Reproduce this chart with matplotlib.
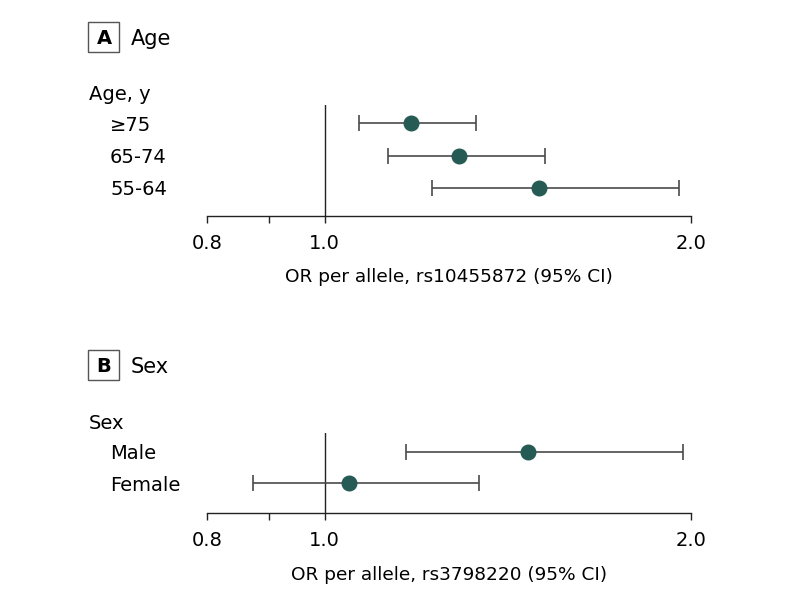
import numpy as np
import matplotlib.pyplot as plt
from matplotlib.patches import Rectangle
from matplotlib.transforms import blended_transform_factory

# panel A: age groups
age_labels = ["\u226575", "65-74", "55-64"]
age_or = [1.178, 1.289, 1.500]
age_lo = [1.067, 1.127, 1.225]
age_hi = [1.332, 1.517, 1.955]

# panel B: sex
sex_labels = ["Male", "Female"]
sex_or = [1.469, 1.047]
sex_lo = [1.166, 0.873]
sex_hi = [1.970, 1.339]

xticks = [0.8, 0.9, 1.0, 2.0]
xticklabels = ["0.8", "", "1.0", "2.0"]

W, H = 794, 601
plt.rcParams['font.family'] = ['DejaVu Sans']
fig = plt.figure(figsize=(W / 100, H / 100), dpi=100)

dot = "#255a55"
bar = "#4a4a4a"
ink = "#222222"


def px(x, y):
  # pixel (from top-left) -> figure fraction
  return x / W, 1 - y / H


def panel(top, bottom, ylim, labels, est, lo, hi, letter, title, box_y, header, xlabel):
  l, b = px(206.7, bottom)
  r, t = px(691, top)
  ax = fig.add_axes([l, b, r - l, t - b])
  ax.set_xscale("log")
  ax.set_xlim(0.8, 2.0)
  ax.set_ylim(*ylim)
  y = np.arange(len(labels))
  est = np.array(est)
  err = [est - np.array(lo), np.array(hi) - est]
  ax.errorbar(est, y, xerr=err, fmt="none", ecolor=bar, elinewidth=1.2,
              capsize=6, capthick=1.2, zorder=2)
  ax.plot(est, y, "o", color=dot, markersize=10.5, zorder=3)
  ax.axvline(1.0, color=ink, lw=1.0, zorder=1)
  for s in ["top", "right", "left"]:
    ax.spines[s].set_visible(False)
  ax.spines["bottom"].set_color(ink)
  ax.spines["bottom"].set_linewidth(1.0)
  ax.set_yticks([])
  ax.set_xticks(xticks)
  ax.set_xticklabels(xticklabels)
  ax.xaxis.set_minor_locator(plt.NullLocator())
  ax.tick_params(axis="x", direction="out", length=5, width=1.0, color=ink,
                 labelsize=14, pad=8)
  ax.set_xlabel(xlabel, fontsize=13.3, labelpad=11)

  tr = blended_transform_factory(fig.transFigure, ax.transData)
  ax.text(89 / W, -0.95, header, transform=tr, fontsize=14,
          va="center_baseline", ha="left")
  for i, lab in enumerate(labels):
    ax.text(110 / W, i, lab, transform=tr, fontsize=14,
            va="center_baseline", ha="left")

  # letter box
  bx0, by0 = px(88, box_y + 15)
  bx1, by1 = px(119, box_y - 15)
  fig.patches.append(Rectangle((bx0, by0), bx1 - bx0, by1 - by0, transform=fig.transFigure,
                               fc="white", ec="#555555", lw=1.0))
  fig.text(*px(104, box_y), letter, fontsize=14, fontweight="bold",
           ha="center", va="center_baseline")
  fig.text(*px(131, box_y), title, fontsize=15, ha="left", va="center_baseline")
  return ax


panel(105, 215.7, (2.87, -0.57), age_labels, age_or, age_lo, age_hi,
      "A", "Age", 37, "Age, y", "OR per allele, rs10455872 (95% CI)")
panel(432.7, 513.3, (1.95, -0.60), sex_labels, sex_or, sex_lo, sex_hi,
      "B", "Sex", 365, "Sex", "OR per allele, rs3798220 (95% CI)")

fig.savefig("out.png", dpi=100)
